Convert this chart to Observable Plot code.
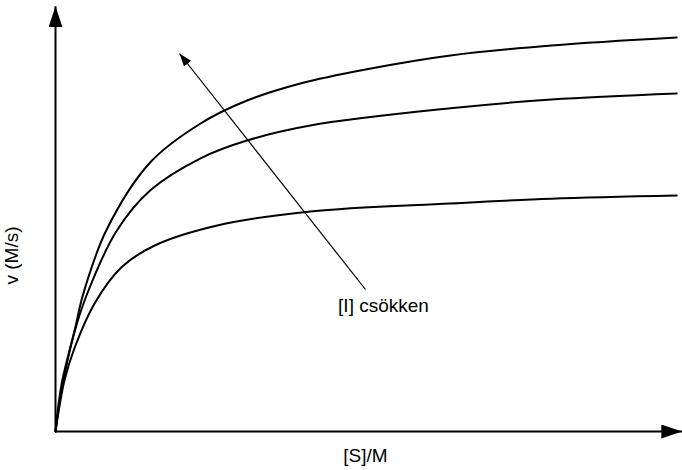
<!DOCTYPE html>
<html>
<head>
<meta charset="utf-8">
<script src="https://cdn.jsdelivr.net/npm/d3@7"></script>
<script src="https://cdn.jsdelivr.net/npm/@observablehq/plot@0.6"></script>
<style>
  html, body { margin: 0; padding: 0; background: #fff; }
  svg { display: block; }
</style>
</head>
<body>
<div id="chart"></div>
<script>
// Substrate concentration [S] (arbitrary units) and velocities
const sTop = [0, 0.1, 0.32, 0.44, 0.82, 1.53, 2.34, 3.10, 3.95, 5.0, 6.37, 8.0, 10.02];
const vTop = [0, 1.2, 2.6, 3.4, 5.03, 6.73, 7.70, 8.28, 8.70, 9.05, 9.40, 9.65, 9.85];

const sMid = [0, 0.1, 0.3, 0.5, 0.98, 1.53, 2.34, 3.10, 4.11, 6.37, 8.0, 10.02];
const vMid = [0, 1.05, 2.45, 3.4, 5.0, 6.03, 6.83, 7.28, 7.65, 8.08, 8.30, 8.45];

const sLow = [0, 0.145, 0.31, 0.63, 1.06, 1.6, 2.61, 4.11, 6.37, 8.0, 10.02];
const vLow = [0, 1.28, 2.1, 3.2, 4.1, 4.65, 5.15, 5.5, 5.70, 5.82, 5.9];

// Axis extents (arrow tips) and annotation arrow
const xAxisEnd = 10.11;
const yAxisEnd = 10.63;
const annotFrom = {x: 5.0, y: 3.55};
const annotTo = {x: 2.0, y: 9.45};

// Labels
const xLabel = "[S]/M";
const yLabel = "v (M/s)";
const annotLabel = "[I] csökken";
const labelPos = {
  x: {x: 5.0, y: -0.6},
  y: {x: -0.71, y: 4.4},
  annot: {x: 5.29, y: 3.15}
};

const toRows = (s, v, name) => s.map((d, i) => ({s: d, v: v[i], curve: name}));
const curves = [
  ...toRows(sTop, vTop, "top"),
  ...toRows(sMid, vMid, "mid"),
  ...toRows(sLow, vLow, "low")
];

function head(len, wid) {
  return (color) => {
    const m = d3.create("svg:marker")
      .attr("viewBox", `0 ${-wid / 2} ${len} ${wid}`)
      .attr("markerWidth", len)
      .attr("markerHeight", wid)
      .attr("markerUnits", "userSpaceOnUse")
      .attr("refX", len)
      .attr("refY", 0)
      .attr("orient", "auto")
      .attr("fill", color)
      .attr("stroke", "none");
    m.append("path").attr("d", `M0,${-wid / 2}L${len},0L0,${wid / 2}Z`);
    return m.node();
  };
}

const axes = [
  {x1: 0, y1: 0, x2: xAxisEnd, y2: 0},
  {x1: 0, y1: 0, x2: 0, y2: yAxisEnd}
];

const chart = Plot.plot({
  width: 682,
  height: 470,
  marginLeft: 55,
  marginRight: 7,
  marginTop: 31,
  marginBottom: 39,
  x: {domain: [0, 10], axis: null},
  y: {domain: [0, 10], axis: null},
  style: {fontFamily: "Liberation Sans, Arial, sans-serif", background: "#fff"},
  marks: [
    Plot.line(curves, {x: "s", y: "v", z: "curve", curve: "catmull-rom", stroke: "#000", strokeWidth: 2}),
    Plot.link(axes, {x1: "x1", y1: "y1", x2: "x2", y2: "y2", stroke: "#000", strokeWidth: 2, markerEnd: head(21, 14)}),
    Plot.link([{x1: annotFrom.x, y1: annotFrom.y, x2: annotTo.x, y2: annotTo.y}],
      {x1: "x1", y1: "y1", x2: "x2", y2: "y2", stroke: "#000", strokeWidth: 1.2, markerEnd: head(13, 9)}),
    Plot.text([labelPos.x], {x: "x", y: "y", text: () => xLabel, fontSize: 19, fill: "#000"}),
    Plot.text([labelPos.y], {x: "x", y: "y", text: () => yLabel, fontSize: 19, rotate: -90, fill: "#000", letterSpacing: "1.5px"}),
    Plot.text([labelPos.annot], {x: "x", y: "y", text: () => annotLabel, fontSize: 19, fill: "#000"})
  ]
});

document.getElementById("chart").appendChild(chart);
</script>
</body>
</html>
